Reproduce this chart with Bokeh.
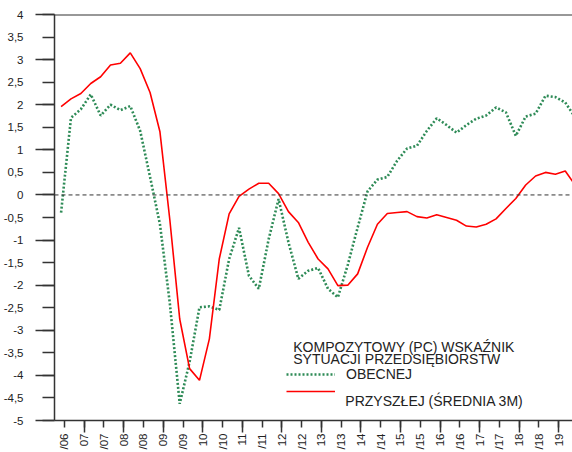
import math
from bokeh.plotting import figure
from bokeh.models import FixedTicker, Span, Label, Legend, LegendItem, Range1d
from bokeh.embed import file_html
from bokeh.resources import INLINE

# Quarterly observations (first one: June 2006), month index counted from Jan 2006
start_month = 5
obecnej = [-0.39, 1.71, 1.90, 2.23, 1.76, 2.00, 1.88, 1.97, 1.42, 0.40,
           -0.65, -2.40, -4.63, -3.70, -2.49, -2.47, -2.55, -1.42, -0.73, -1.79,
           -2.08, -0.98, -0.09, -1.05, -1.86, -1.68, -1.62, -2.08, -2.27, -1.55,
           -0.72, 0.08, 0.34, 0.40, 0.76, 1.03, 1.09, 1.42, 1.70, 1.55,
           1.38, 1.55, 1.69, 1.76, 1.94, 1.83, 1.31, 1.74, 1.80, 2.20,
           2.17, 2.05, 1.72]
przyszlej = [1.96, 2.13, 2.25, 2.47, 2.62, 2.88, 2.92, 3.15, 2.80, 2.27,
             1.40, -0.55, -2.75, -3.85, -4.11, -3.19, -1.42, -0.42, -0.03, 0.13,
             0.26, 0.26, 0.03, -0.37, -0.61, -1.05, -1.42, -1.64, -2.01, -2.00,
             -1.75, -1.16, -0.65, -0.41, -0.39, -0.37, -0.48, -0.51, -0.44, -0.50,
             -0.56, -0.69, -0.71, -0.65, -0.53, -0.30, -0.08, 0.22, 0.42, 0.50,
             0.46, 0.53, 0.22]
x_tick_labels = ["/06", "07", "/07", "08", "/08", "09", "/09", "10", "/10", "11",
                 "/11", "12", "/12", "13", "/13", "14", "/14", "15", "/15", "16",
                 "/16", "17", "/17", "18", "/18", "19"]
y_ticks = [-5 + 0.5 * k for k in range(19)]
y_tick_labels = ["-5", "-4,5", "-4", "-3,5", "-3", "-2,5", "-2", "-1,5", "-1", "-0,5",
                 "0", "0,5", "1", "1,5", "2", "2,5", "3", "3,5", "4"]
legend_title = ["KOMPOZYTOWY (PC) WSKAŹNIK", "SYTUACJI PRZEDSIĘBIORSTW"]
series_names = ["OBECNEJ", "PRZYSZŁEJ (ŚREDNIA 3M)"]

months = [start_month + 3 * i for i in range(len(obecnej))]
x_ticks = [6 + 6 * k for k in range(len(x_tick_labels))]
year_ticks = [t for t in x_ticks if t % 12 == 0]

FONT = "Liberation Sans"
p = figure(width=572, height=452, output_backend="svg", toolbar_location=None,
           x_range=Range1d(3, 160.2), y_range=Range1d(-5, 4),
           min_border_top=14, min_border_right=0, min_border_left=52)
p.xgrid.visible = False
p.ygrid.visible = False
p.outline_line_color = None

# x axis
p.xaxis.ticker = FixedTicker(ticks=x_ticks, minor_ticks=year_ticks)
p.xaxis.major_label_overrides = {t: l for t, l in zip(x_ticks, x_tick_labels)}
p.xaxis.major_label_orientation = math.pi / 2
p.xaxis.major_tick_out = 7
p.xaxis.major_tick_in = 0
p.xaxis.minor_tick_out = 12
p.xaxis.minor_tick_in = 0
p.xaxis.major_label_standoff = 1

# y axis
p.yaxis.ticker = FixedTicker(ticks=y_ticks, minor_ticks=[t for t in y_ticks if t == int(t)])
p.yaxis.major_label_overrides = {t: l for t, l in zip(y_ticks, y_tick_labels)}
p.yaxis.major_tick_out = 12
p.yaxis.major_tick_in = 0
p.yaxis.minor_tick_out = 19
p.yaxis.minor_tick_in = 0
p.yaxis.major_label_standoff = 12

for ax in (p.xaxis, p.yaxis):
    ax.axis_line_color = "#333333"
    ax.axis_line_width = 1.5
    ax.major_tick_line_color = "#333333"
    ax.major_tick_line_width = 1.5
    ax.minor_tick_line_color = "#333333"
    ax.minor_tick_line_width = 1.5
    ax.major_label_text_font = FONT
    ax.major_label_text_font_size = "11.5px"
    ax.major_label_text_color = "#222222"

p.add_layout(Span(location=4, dimension="width", line_color="#333333", line_width=2))
p.add_layout(Span(location=0, dimension="width", line_color="#333333", line_width=1,
                  line_dash="4 3"))

r_ob = p.line(months, obecnej, line_color="#2E8B57", line_width=2.6, line_dash="2 2")
r_pr = p.line(months, przyszlej, line_color="#FF0000", line_width=1.6)

for txt, yv in zip(legend_title, [-3.38, -3.645]):
    p.add_layout(Label(x=75.46, y=yv, text=txt, text_font=FONT, text_font_size="14px",
                       text_baseline="alphabetic", text_color="#222222"))
# label of the second series sits a little below its legend sample, as in the original
p.add_layout(Label(x=91.27, y=-4.56, text=series_names[1], text_font=FONT,
                   text_font_size="14px", text_baseline="alphabetic",
                   text_color="#222222"))

common = dict(border_line_color=None, background_fill_alpha=0, padding=0, margin=0,
              glyph_width=49, glyph_height=20, label_height=20, label_standoff=11,
              label_text_font=FONT, label_text_font_size="14px",
              label_text_color="#222222")
legend_a = Legend(items=[LegendItem(label=series_names[0], renderers=[r_ob])],
                  location=(232, 36.5), **common)
legend_b = Legend(items=[LegendItem(label=" ", renderers=[r_pr])],
                  location=(232, 19.2), **common)
p.add_layout(legend_a)
p.add_layout(legend_b)

open("out.html", "w").write(file_html(p, INLINE))
